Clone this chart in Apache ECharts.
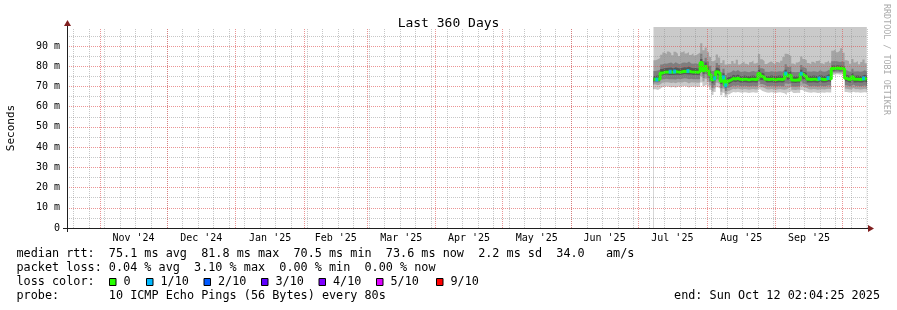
<!DOCTYPE html>
<html><head><meta charset="utf-8">
<script src="https://cdn.jsdelivr.net/npm/echarts@6/dist/echarts.min.js"></script>
<style>html,body{margin:0;padding:0;background:#fff}#c{width:897px;height:310px}</style>
</head><body><div id="c"></div>
<script>
// ---------- data ----------
const rangeStart = '2024-10-17T02:04:25Z';
const rangeEnd   = '2025-10-12T02:04:25Z';
const firstDay   = '2025-07-08';          // first daily sample, one per day after
const firstWeekLine = '2024-10-20';
const monthStarts = ['2024-11-01','2024-12-01','2025-01-01','2025-02-01','2025-03-01','2025-04-01',
                     '2025-05-01','2025-06-01','2025-07-01','2025-08-01','2025-09-01','2025-10-01'];
const monthLabels = ["Nov '24","Dec '24","Jan '25","Feb '25","Mar '25","Apr '25",
                     "May '25","Jun '25","Jul '25","Aug '25","Sep '25"];
const yTicks = [0,10,20,30,40,50,60,70,80,90];

const median = [73.6,73.4,73.7,76.6,77.0,77.2,77.1,77.3,77.0,77.4,
 77.2,77.0,77.3,77.5,77.4,77.6,77.3,77.1,77.2,77.0,
 77.4,81.8,77.8,79.8,77.6,75.8,73.3,74.0,77.3,76.4,
 72.6,74.5,70.5,72.7,73.2,74.0,73.6,74.1,73.5,73.4,
 73.6,73.5,73.3,73.5,73.6,73.4,73.5,76.4,75.0,74.6,
 73.5,73.4,73.6,73.5,73.3,73.5,73.6,73.4,73.8,76.4,
 75.2,75.7,73.2,73.1,73.3,73.2,76.3,75.4,74.8,73.5,
 73.4,73.6,73.5,73.3,73.9,73.5,73.4,73.6,74.2,73.5,
 78.9,79.0,79.1,78.8,79.0,78.6,74.0,73.5,73.4,74.8,
 73.6,73.5,73.4,73.5,74.0,73.5,73.6];
const lossPct = [0,0.05,0,0,0,0,0,0.08,0,0.06,
 0,0,0,0,0,0.1,0,0,0,0,
 0,0,0,0,0,0,0,0.12,0,0,
 0,0.06,3.1,0,0,0,0,0,0,0,
 0,0,0,0,0,0,0,0,0,0,
 0,0,0,0,0,0,0,0,0,0.07,
 0,0,0,0,0,0,0.05,0,0,0,
 0,0,0,0,0.06,0,0,0,0.05,0,
 0,0,0,0,0,0,0,0,0,0,
 0,0,0,0,0.05,0,0];
// sorted ping rtts (ms): p1 = fastest ... p10 = slowest
const p1 = [68.6,68.3,68.8,69.6,69.9,70.1,69.8,69.5,69.9,69.4,
 70.0,69.8,70.0,70.2,70.0,69.3,70.0,69.8,70.0,69.7,
 69.9,72.0,70.2,71.0,70.0,68.4,65.8,67.2,69.6,68.8,
 65.6,66.9,64.6,66.0,66.8,67.2,67.0,67.3,67.0,66.9,
 67.1,67.0,66.8,67.0,67.1,66.9,67.0,68.6,67.8,67.4,
 67.0,66.9,67.1,67.0,66.8,67.0,67.1,66.9,66.6,65.8,
 67.0,67.6,66.8,66.7,66.9,66.8,68.2,67.6,67.3,67.0,
 66.9,67.1,67.0,66.8,66.9,67.0,66.9,67.1,67.0,67.0,
 75.6,75.9,76.0,75.8,75.9,75.4,67.2,67.0,66.9,67.4,
 67.0,67.1,66.9,67.0,67.1,67.0,67.1];
const p2 = [70.9,70.6,71.0,71.8,72.0,72.1,71.9,71.7,72.0,71.6,
 72.1,71.9,72.0,72.3,72.1,71.5,72.1,71.9,72.0,71.8,
 72.0,75.0,72.4,73.8,72.2,70.5,67.6,69.0,71.8,71.0,
 67.4,68.8,66.2,67.8,68.4,68.9,68.6,69.0,68.6,68.5,
 68.7,68.6,68.4,68.6,68.7,68.5,68.6,70.6,69.6,69.2,
 68.6,68.5,68.7,68.6,68.4,68.6,68.7,68.5,68.4,68.6,
 69.2,69.8,68.4,68.3,68.5,68.4,70.4,69.6,69.2,68.6,
 68.5,68.7,68.6,68.4,68.6,68.6,68.5,68.7,68.8,68.6,
 76.4,76.6,76.7,76.5,76.6,76.2,68.9,68.6,68.5,69.2,
 68.6,68.7,68.5,68.6,68.8,68.6,68.7];
const p3 = [72.1,71.9,72.2,73.4,73.7,73.8,73.6,73.5,73.6,73.4,
 73.8,73.6,73.8,74.0,73.9,73.5,73.8,73.6,73.7,73.5,
 73.7,77.2,74.2,76.0,74.0,72.3,69.4,70.6,73.6,72.8,
 69.2,70.5,67.8,69.4,70.0,70.5,70.2,70.6,70.2,70.1,
 70.3,70.2,70.0,70.2,70.3,70.1,70.2,72.4,71.2,70.8,
 70.2,70.1,70.3,70.2,70.0,70.2,70.3,70.1,70.2,71.4,
 71.2,71.6,70.0,69.9,70.1,70.0,72.4,71.4,70.9,70.2,
 70.1,70.3,70.2,70.0,70.4,70.2,70.1,70.3,70.6,70.2,
 77.1,77.3,77.4,77.2,77.3,76.9,70.6,70.2,70.1,70.9,
 70.2,70.3,70.1,70.2,70.5,70.2,70.3];
const p4 = [72.9,72.7,73.0,75.4,75.8,75.9,75.7,75.7,75.6,75.8,
 75.8,75.6,75.9,76.1,76.0,75.9,75.9,75.7,75.8,75.6,
 75.8,79.6,76.3,78.2,76.0,74.3,71.6,72.6,75.7,74.8,
 71.2,72.6,69.4,71.2,71.8,72.5,72.1,72.6,72.0,71.9,
 72.1,72.0,71.8,72.0,72.1,71.9,72.0,74.6,73.2,72.9,
 72.0,71.9,72.1,72.0,71.8,72.0,72.1,71.9,72.2,74.4,
 73.4,73.8,71.8,71.7,71.9,71.8,74.6,73.6,73.0,72.0,
 71.9,72.1,72.0,71.8,72.4,72.0,71.9,72.1,72.6,72.0,
 77.8,78.0,78.1,77.9,78.0,77.6,72.6,72.0,71.9,73.0,
 72.0,72.1,71.9,72.0,72.5,72.0,72.1];
const p5 = [73.3,73.1,73.5,76.3,76.7,76.9,76.8,76.9,76.7,77.0,
 76.8,76.7,76.9,77.1,77.0,77.1,76.9,76.8,76.8,76.6,
 76.9,81.0,77.3,79.2,77.1,75.3,72.7,73.5,76.8,75.9,
 72.1,73.9,70.1,72.2,72.7,73.5,73.1,73.6,73.0,72.9,
 73.1,73.0,72.8,73.0,73.1,72.9,73.0,75.8,74.4,74.0,
 73.0,72.9,73.1,73.0,72.8,73.0,73.1,72.9,73.3,75.8,
 74.6,75.1,72.7,72.6,72.8,72.7,75.7,74.8,74.2,73.0,
 72.9,73.1,73.0,72.8,73.4,73.0,72.9,73.1,73.7,73.0,
 78.4,78.5,78.6,78.3,78.5,78.1,73.5,73.0,72.9,74.2,
 73.0,73.1,72.9,73.0,73.5,73.0,73.1];
const p6 = [74.0,73.9,74.3,77.4,77.8,78.0,78.0,78.1,77.8,78.2,
 78.0,77.8,78.1,78.3,78.2,78.4,78.0,77.9,78.0,77.8,
 78.1,82.4,78.6,80.6,78.4,76.5,73.9,74.7,78.0,77.1,
 73.3,75.2,71.3,73.4,73.9,74.7,74.3,74.8,74.2,74.1,
 74.3,74.2,74.0,74.2,74.3,74.1,74.2,77.0,75.6,75.2,
 74.2,74.1,74.3,74.2,74.0,74.2,74.3,74.1,74.5,77.0,
 75.8,76.3,73.9,73.8,74.0,73.9,76.9,76.0,75.4,74.2,
 74.1,74.3,74.2,74.0,74.6,74.2,74.1,74.3,74.9,74.2,
 79.5,79.6,79.7,79.4,79.6,79.2,74.7,74.2,74.1,75.4,
 74.2,74.3,74.1,74.2,74.7,74.2,74.3];
const p7 = [75.2,75.4,75.6,78.6,79.0,79.1,79.2,79.4,78.9,79.5,
 79.1,78.9,79.3,79.5,79.4,79.8,79.2,79.0,79.1,78.9,
 79.4,83.6,80.0,81.8,79.8,77.8,75.2,76.0,79.3,78.4,
 74.6,76.5,72.8,74.6,75.0,75.8,75.3,75.9,75.2,75.1,
 75.4,75.2,75.0,75.3,75.4,75.2,75.3,78.2,76.8,76.3,
 75.2,75.1,75.4,75.3,75.1,75.3,75.4,75.2,75.8,78.3,
 77.0,77.5,75.0,74.9,75.1,75.0,78.2,77.2,76.6,75.3,
 75.2,75.4,75.3,75.1,75.8,75.3,75.2,75.4,76.1,75.3,
 80.3,80.4,80.5,80.2,80.4,80.0,75.8,75.3,75.2,76.5,
 75.3,75.4,75.2,75.3,75.8,75.3,75.4];
const p8 = [77.6,77.9,78.2,80.9,81.4,81.2,81.6,81.9,81.1,82.0,
 81.3,81.0,81.7,81.9,81.6,82.3,81.4,81.2,81.5,81.1,
 81.8,86.2,82.6,84.2,82.3,80.2,77.6,78.4,81.6,80.6,
 77.0,78.8,75.6,76.8,77.1,78.0,77.4,78.1,77.3,77.2,
 77.5,77.3,77.0,77.4,77.6,77.3,77.4,80.6,79.0,78.5,
 77.3,77.2,77.5,77.4,77.2,77.4,77.5,77.3,78.2,81.0,
 79.6,79.9,77.1,77.0,77.2,77.1,80.6,79.5,78.8,77.4,
 77.3,77.5,77.4,77.2,78.0,77.4,77.3,77.5,78.3,77.4,
 82.4,82.6,82.3,82.1,82.5,82.0,78.0,77.4,77.3,78.7,
 77.4,77.5,77.3,77.4,78.0,77.4,77.5];
const p9 = [82.9,83.4,84.1,85.7,86.8,85.9,87.3,86.4,85.4,87.1,
 86.2,85.1,86.9,87.5,86.3,87.0,85.6,86.5,85.3,86.0,
 86.8,91.3,87.9,89.2,86.9,84.6,82.4,83.1,85.8,84.3,
 81.6,82.9,80.9,81.2,81.0,82.6,81.4,83.2,80.9,81.7,
 82.3,81.2,80.6,82.0,82.8,81.3,81.9,86.0,83.4,82.5,
 81.1,81.8,82.4,81.5,80.8,82.1,81.6,82.7,84.6,86.2,
 85.8,84.9,81.4,80.7,81.9,82.5,84.8,83.6,82.9,81.6,
 81.0,82.2,81.3,82.6,83.0,81.5,80.9,82.0,82.8,81.7,
 87.6,88.4,86.9,87.8,88.9,86.6,83.0,82.4,81.2,83.6,
 81.8,82.6,81.0,82.1,83.3,81.5,82.0];
const p10 = [118,121,116,124,119,127,122,131,117,126,
 120,115,123,128,121,133,119,124,118,122,
 125,139,126,132,124,120,117,119,123,121,
 115,118,114,116,117,120,118,121,116,119,
 122,117,115,120,123,118,119,127,121,120,
 117,119,121,118,116,120,118,122,125,130,
 126,124,117,115,119,121,126,122,120,118,
 117,120,118,121,122,118,116,119,121,119,
 134,137,131,135,138,130,121,120,117,123,
 119,121,117,120,122,118,119];

const lossLabels = ['0','1/10','2/10','3/10','4/10','5/10','9/10'];
const lossColors = ['#26ff00','#00b8ff','#0059ff','#5e00ff','#7e00ff','#dd00ff','#ff0000'];
const lossThresholds = [0,1,2,3,4,5,9];   // lost pings out of 10
const smokeColors = ['#cacaca','#a4a4a4','#7e7e7e','#585858','#323232'];

const statLines = [
  'median rtt:  75.1 ms avg  81.8 ms max  70.5 ms min  73.6 ms now  2.2 ms sd  34.0   am/s',
  'packet loss: 0.04 % avg  3.10 % max  0.00 % min  0.00 % now'
];
const probeLine = 'probe:       10 ICMP Echo Pings (56 Bytes) every 80s';
const endLine = 'end: Sun Oct 12 02:04:25 2025';

// ---------- build ----------
const DAY = 864e5;
const t0 = Date.parse(rangeStart), t1 = Date.parse(rangeEnd);
const d0 = Date.parse(firstDay + 'T00:00:00Z');
const ts = median.map((_, i) => d0 + i * DAY);
const monthTs = monthStarts.map(s => Date.parse(s + 'T00:00:00Z'));
const labelTs = monthLabels.map((_, i) => (monthTs[i] + monthTs[i + 1]) / 2);
const labelMap = new Map(labelTs.map((t, i) => [t, monthLabels[i]]));
const weekTs = [];
for (let t = Date.parse(firstWeekLine + 'T00:00:00Z'); t < t1; t += 7 * DAY) weekTs.push(t);

const MONO = 'DejaVu Sans Mono';
const gridCol = 'rgba(143,143,143,0.5)';
const mgridCol = 'rgba(222,79,79,0.6)';
const dash = [1, 1];

// smoke: rrdtool paints band k between p_k and p_(11-k); the same picture is built here by
// painting the upper edges outside-in, then the lower edges inside-out.
const pct = [p1,p2,p3,p4,p5,p6,p7,p8,p9,p10];
const series = [];
function area(vals, color) {
  return { type:'line', step:'end', symbol:'none', silent:true, z:2,
    lineStyle:{ opacity:0 }, areaStyle:{ color: color, opacity:1, origin:'start' },
    data: ts.map((t, i) => [t, vals[i]]) };
}
for (let k = 0; k < 5; k++) series.push(area(pct[9 - k], smokeColors[k]));
for (let k = 4; k >= 0; k--) series.push(area(pct[k], k > 0 ? smokeColors[k - 1] : '#ffffff'));

// grid lines (drawn over the smoke, like rrdtool)
const gl = [];
weekTs.forEach(t => gl.push({ xAxis: t, lineStyle:{ color: gridCol, type: dash, width:1 } }));
yTicks.forEach(v => gl.push({ yAxis: v + 5, lineStyle:{ color: gridCol, type: dash, width:1 } }));
monthTs.forEach(t => gl.push({ xAxis: t, lineStyle:{ color: mgridCol, type: dash, width:1 } }));
yTicks.slice(1).forEach(v => gl.push({ yAxis: v, lineStyle:{ color: mgridCol, type: dash, width:1 } }));
series.push({ type:'line', data:[], z:3, silent:true,
  markLine:{ silent:true, symbol:['none','none'], label:{ show:false }, animation:false, data: gl } });
// median line
series.push({ type:'line', step:'end', symbol:'none', z:4, silent:true,
  lineStyle:{ color: lossColors[0], width:3 }, data: ts.map((t, i) => [t, median[i]]) });
// loss coloured parts of the median
function lossIdx(p) { const lost = p / 10; let c = 0; for (let j = 1; j < lossThresholds.length; j++) if (lost > lossThresholds[j - 1]) c = j; return c; }
series.push({ type:'scatter', symbol:'rect', symbolSize:[3,4], z:5, silent:true,
  data: ts.map((t, i) => lossPct[i] > 0 ? { value:[t + DAY / 2, median[i]], itemStyle:{ color: lossColors[lossIdx(lossPct[i])] } } : null).filter(Boolean) });

// ---------- graphic (legend, axes arrows) ----------
const axisCol = 'rgb(31,31,31)', arrowCol = 'rgb(128,31,31)';
const graphic = [
  { type:'line', shape:{ x1:67.5, y1:232, x2:67.5, y2:25 }, style:{ stroke: axisCol, lineWidth:1 }, z:10 },
  { type:'line', shape:{ x1:63, y1:228.5, x2:869, y2:228.5 }, style:{ stroke: axisCol, lineWidth:1 }, z:10 },
  { type:'polygon', shape:{ points:[[67.5,20],[64,26],[71,26]] }, style:{ fill: arrowCol }, z:11 },
  { type:'polygon', shape:{ points:[[874,228.5],[868,225],[868,232]] }, style:{ fill: arrowCol }, z:11 },
  { type:'text', x:886, y:4, rotation:-Math.PI/2, style:{ text:'RRDTOOL / TOBI OETIKER', fill:'#aaaaaa', font:'8.4px "'+MONO+'"', textAlign:'left', textVerticalAlign:'middle' } }
];
statLines.forEach((s, i) => graphic.push({ type:'text', x:16.5, y:254 + 14 * i,
  style:{ text:s, fill:'#000', font:'11.8px "'+MONO+'"', textVerticalAlign:'middle' } }));
graphic.push({ type:'text', x:16.5, y:282, style:{ text:'loss color:', fill:'#000', font:'11.8px "'+MONO+'"', textVerticalAlign:'middle' } });
const sqX = [109, 146, 203.5, 261, 318.5, 376, 436];
lossLabels.forEach((l, i) => {
  graphic.push({ type:'rect', shape:{ x: sqX[i] + 0.5, y:278.5, width:6.5, height:7 }, style:{ fill: lossColors[i], stroke:'#000', lineWidth:1 } });
  graphic.push({ type:'text', x: sqX[i] + 14.5, y:282, style:{ text:l, fill:'#000', font:'11.8px "'+MONO+'"', textVerticalAlign:'middle' } });
});
graphic.push({ type:'text', x:16.5, y:296, style:{ text: probeLine, fill:'#000', font:'11.8px "'+MONO+'"', textVerticalAlign:'middle' } });
graphic.push({ type:'text', x:880, y:296, style:{ text: endLine, fill:'#000', font:'11.8px "'+MONO+'"', textAlign:'right', textVerticalAlign:'middle' } });

const chart = echarts.init(document.getElementById('c'), null, { renderer:'canvas' });
chart.setOption({
  animation:false,
  backgroundColor:'#fff',
  title:{ text:'Last 360 Days', left:'center', top:12,
    textStyle:{ fontFamily: MONO, fontSize:13, fontWeight:'normal', color:'#000' } },
  grid:{ left:67, top:28, width:800, height:200, containLabel:false, outerBoundsMode:'none' },
  xAxis:{ type:'value', min:t0, max:t1,
    axisLine:{ show:false }, axisTick:{ show:false }, splitLine:{ show:false },
    axisLabel:{ customValues: labelTs, formatter: v => labelMap.get(v) || '', margin:5,
      fontFamily: MONO, fontSize:10, color:'#000' } },
  yAxis:{ type:'value', min:0, max:98.9, interval:10,
    name:'Seconds', nameLocation:'middle', nameGap:50, nameRotate:90,
    nameTextStyle:{ fontFamily: MONO, fontSize:11, color:'#000' },
    axisLine:{ show:false }, axisTick:{ show:false }, splitLine:{ show:false },
    axisLabel:{ formatter: v => v === 0 ? '0' : v + ' m', showMaxLabel:false, margin:7,
      fontFamily: MONO, fontSize:10, color:'#000' } },
  graphic: graphic,
  series: series
});
</script></body></html>
